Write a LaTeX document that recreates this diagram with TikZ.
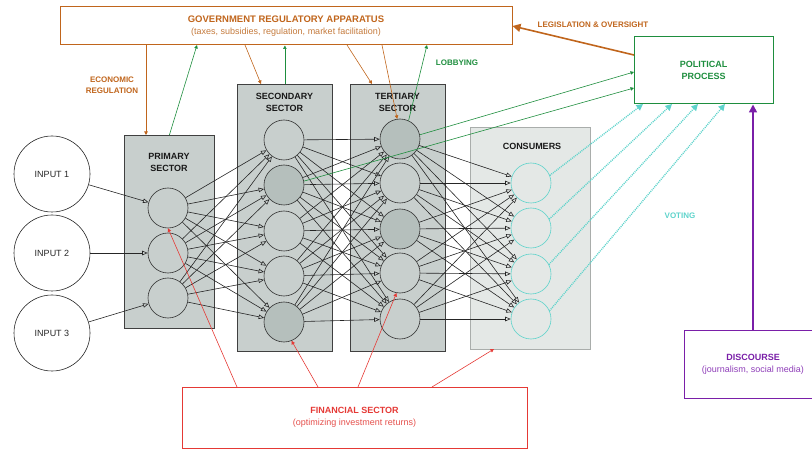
\documentclass[tikz,border=0pt]{standalone}
\usepackage{fontspec}
\setmainfont{Liberation Sans}
\usetikzlibrary{arrows.meta,shadows}

\definecolor{govclr}{HTML}{C0651C}
\definecolor{govsub}{HTML}{C47A3C}
\definecolor{lobclr}{HTML}{1E8E3E}
\definecolor{finclr}{HTML}{E53935}
\definecolor{finsub}{HTML}{E5504C}
\definecolor{voteclr}{HTML}{5ED3CB}
\definecolor{discclr}{HTML}{7A1FA8}
\definecolor{discsub}{HTML}{8E3DB8}
\definecolor{sectfill}{HTML}{C8CFCD}
\definecolor{celldark}{HTML}{B5BFBC}
\definecolor{consfill}{HTML}{E4E8E6}
\definecolor{consedge}{HTML}{A9ADAB}

\tikzset{
  sectorbox/.style={draw=black!75, line width=0.8pt, fill=sectfill, anchor=north west,
    inner sep=0pt, drop shadow={shadow xshift=1pt, shadow yshift=-1pt, fill=black!40, opacity=0.5}},
  consbox/.style={draw=consedge, line width=0.8pt, fill=consfill, anchor=north west, inner sep=0pt},
  seclabel/.style={font=\bfseries\fontsize{9}{12}\selectfont, align=center, text=black!90},
  cell/.style={circle, draw=black!80, line width=0.6pt, fill=sectfill, minimum size=40pt, inner sep=0pt},
  darkcell/.style={cell, fill=celldark},
  conscell/.style={circle, draw=voteclr, line width=0.6pt, fill=consfill, minimum size=40pt, inner sep=0pt},
  inputnode/.style={circle, draw=black!85, line width=0.6pt, minimum size=76pt, inner sep=0pt,
    font=\fontsize{9}{11}\selectfont, text=black!85},
  flow/.style={draw=black!85, line width=0.6pt, -{Triangle[open,length=5.5pt,width=4.5pt]}},
  smalltip/.style={-{Triangle[length=3.5pt,width=3.5pt]}},
  regarrow/.style={draw=govclr, line width=0.6pt, smalltip},
  lobarrow/.style={draw=lobclr, line width=0.6pt, smalltip},
  finarrow/.style={draw=finclr, line width=0.6pt, smalltip},
  votearrow/.style={draw=voteclr, line width=1.4pt, dash pattern=on 1pt off 1pt,
    -{Triangle[length=6.5pt,width=6.5pt]}},
  tagtext/.style={font=\bfseries\fontsize{8}{11}\selectfont, align=center},
}

\begin{document}
\begin{tikzpicture}[x=1pt,y=-1pt]
\useasboundingbox (0,0) rectangle (812,449);
\clip (0,0) rectangle (812,449);

% ---- framing boxes ----
\node[draw=govclr, line width=1pt, minimum width=452pt, minimum height=38pt, inner sep=0pt,
  align=center, font=\fontsize{9}{12}\selectfont, text=govclr] (gov) at (286,26)
  {{\bfseries\fontsize{9.5}{12}\selectfont GOVERNMENT REGULATORY APPARATUS}\\
   {\color{govsub}(taxes, subsidies, regulation, market facilitation)}};

\node[draw=lobclr, line width=1pt, minimum width=139pt, minimum height=67pt, inner sep=0pt,
  align=center, font=\bfseries\fontsize{9}{12}\selectfont, text=lobclr] (pol) at (703.5,70.5)
  {POLITICAL\\PROCESS};

\node[draw=discclr, line width=1pt, minimum width=138pt, minimum height=67pt, inner sep=0pt,
  align=center, font=\fontsize{9}{12}\selectfont, text=discclr] (disc) at (753,364.5)
  {{\bfseries DISCOURSE}\\{\color{discsub}(journalism, social media)}};

\node[draw=finclr, line width=1pt, minimum width=345pt, minimum height=61pt, inner sep=0pt,
  align=center, font=\fontsize{9}{12}\selectfont, text=finclr] (fin) at (354.5,417.5)
  {{\bfseries FINANCIAL SECTOR}\\{\color{finsub}(optimizing investment returns)}};

% ---- sector columns ----
\node[sectorbox, minimum width=90pt, minimum height=193pt] (prim) at (124,135) {};
\node[sectorbox, minimum width=95pt, minimum height=267pt] (sec) at (237,84) {};
\node[sectorbox, minimum width=95pt, minimum height=267pt] (ter) at (350,84) {};
\node[consbox, minimum width=120pt, minimum height=222pt] (cons) at (470,127) {};

\node[seclabel] (primlbl) at (169,162) {PRIMARY\\SECTOR};
\node[seclabel] (seclbl) at (284.5,102) {SECONDARY\\SECTOR};
\node[seclabel] (terlbl) at (397.5,102) {TERTIARY\\SECTOR};
\node[seclabel] (conslbl) at (532,146) {CONSUMERS};

% ---- inputs ----
\node[inputnode] (in1) at (52,174) {INPUT 1};
\node[inputnode] (in2) at (52,253) {INPUT 2};
\node[inputnode] (in3) at (52,333) {INPUT 3};

% ---- firms and households ----
\node[cell] (p1) at (168,208) {};
\node[cell] (p2) at (168,253) {};
\node[cell] (p3) at (168,298) {};

\node[cell]     (s1) at (284,140) {};
\node[darkcell] (s2) at (284,185) {};
\node[cell]     (s3) at (284,231) {};
\node[cell]     (s4) at (284,276) {};
\node[darkcell] (s5) at (284,322) {};

\node[darkcell] (t1) at (400,139) {};
\node[cell]     (t2) at (400,183) {};
\node[darkcell] (t3) at (400,229) {};
\node[cell]     (t4) at (400,273) {};
\node[cell]     (t5) at (400,319) {};

\node[conscell] (c1) at (531,183) {};
\node[conscell] (c2) at (531,228) {};
\node[conscell] (c3) at (531,274) {};
\node[conscell] (c4) at (531,319) {};

% ---- supply chain flows ----
\draw[flow] (in1) -- (p1);
\draw[flow] (in2) -- (p2);
\draw[flow] (in3) -- (p3);
\foreach \i in {1,2,3} \foreach \j in {1,...,5} \draw[flow] (p\i) -- (s\j);
\foreach \i in {1,...,5} \foreach \j in {1,...,5} \draw[flow] (s\i) -- (t\j);
\foreach \i in {1,...,5} \foreach \j in {1,...,4} \draw[flow] (t\i) -- (c\j);

% ---- attachment points on box edges ----
\coordinate (gEcon) at (146,45);
\coordinate (pEcon) at (146,135);
\coordinate (gSec)  at (245,45);
\coordinate (sSec)  at (261,84);
\coordinate (gTer)  at (347,45);
\coordinate (tTer)  at (372,84);
\coordinate (gTerC) at (382,45);
\coordinate (gLob1) at (197,45);
\coordinate (gLob3) at (427,45);
\coordinate (polA)  at (634,72);
\coordinate (polB)  at (634,88);
\coordinate (polL)  at (634,55);
\coordinate (v1) at (643,104);
\coordinate (v2) at (672,104);
\coordinate (v3) at (698,104);
\coordinate (v4) at (725,104);
\coordinate (f1) at (237,387);
\coordinate (f2) at (318,387);
\coordinate (f3) at (358,387);
\coordinate (f4) at (432,387);
\coordinate (consB) at (494,349);

% ---- economic regulation ----
\draw[regarrow] (gEcon) -- (pEcon);
\draw[regarrow] (gSec) -- (sSec);
\draw[regarrow] (gTer) -- (tTer);
\draw[regarrow] (gTerC) -- (t1.98);
\node[tagtext, text=govclr] (econlbl) at (112,85) {ECONOMIC\\REGULATION};

% ---- lobbying ----
\draw[lobarrow] (prim.north) -- (gLob1);
\draw[lobarrow] (sec.north) -- (sec.north |- gov.south);
\draw[lobarrow] (t1.65) -- (gLob3);
\draw[lobarrow] (t1.12) -- (polA);
\draw[lobarrow] (s2.11) -- (polB);
\node[tagtext, text=lobclr] (loblbl) at (457,63) {LOBBYING};

% ---- legislation ----
\draw[draw=govclr, line width=1.6pt, -{Triangle[length=8pt,width=8pt]}] (polL) -- (gov.east);
\node[tagtext, text=govclr] (leglbl) at (593,25) {LEGISLATION \& OVERSIGHT};

% ---- voting ----
\draw[votearrow] (c1.22) -- (v1);
\draw[votearrow] (c2.26) -- (v2);
\draw[votearrow] (c3.28) -- (v3);
\draw[votearrow] (c4.24) -- (v4);
\node[tagtext, text=voteclr] (votelbl) at (680,216) {VOTING};

% ---- discourse ----
\draw[draw=discclr, line width=1.6pt, -{Triangle[length=8pt,width=8pt]}] (disc.north) -- (disc.north |- pol.south);

% ---- finance ----
\draw[finarrow] (f1) -- (p1.south);
\draw[finarrow] (f2) -- (s5.-68);
\draw[finarrow] (f3) -- (t4.-100);
\draw[finarrow] (f4) -- (consB);
\end{tikzpicture}
\end{document}
